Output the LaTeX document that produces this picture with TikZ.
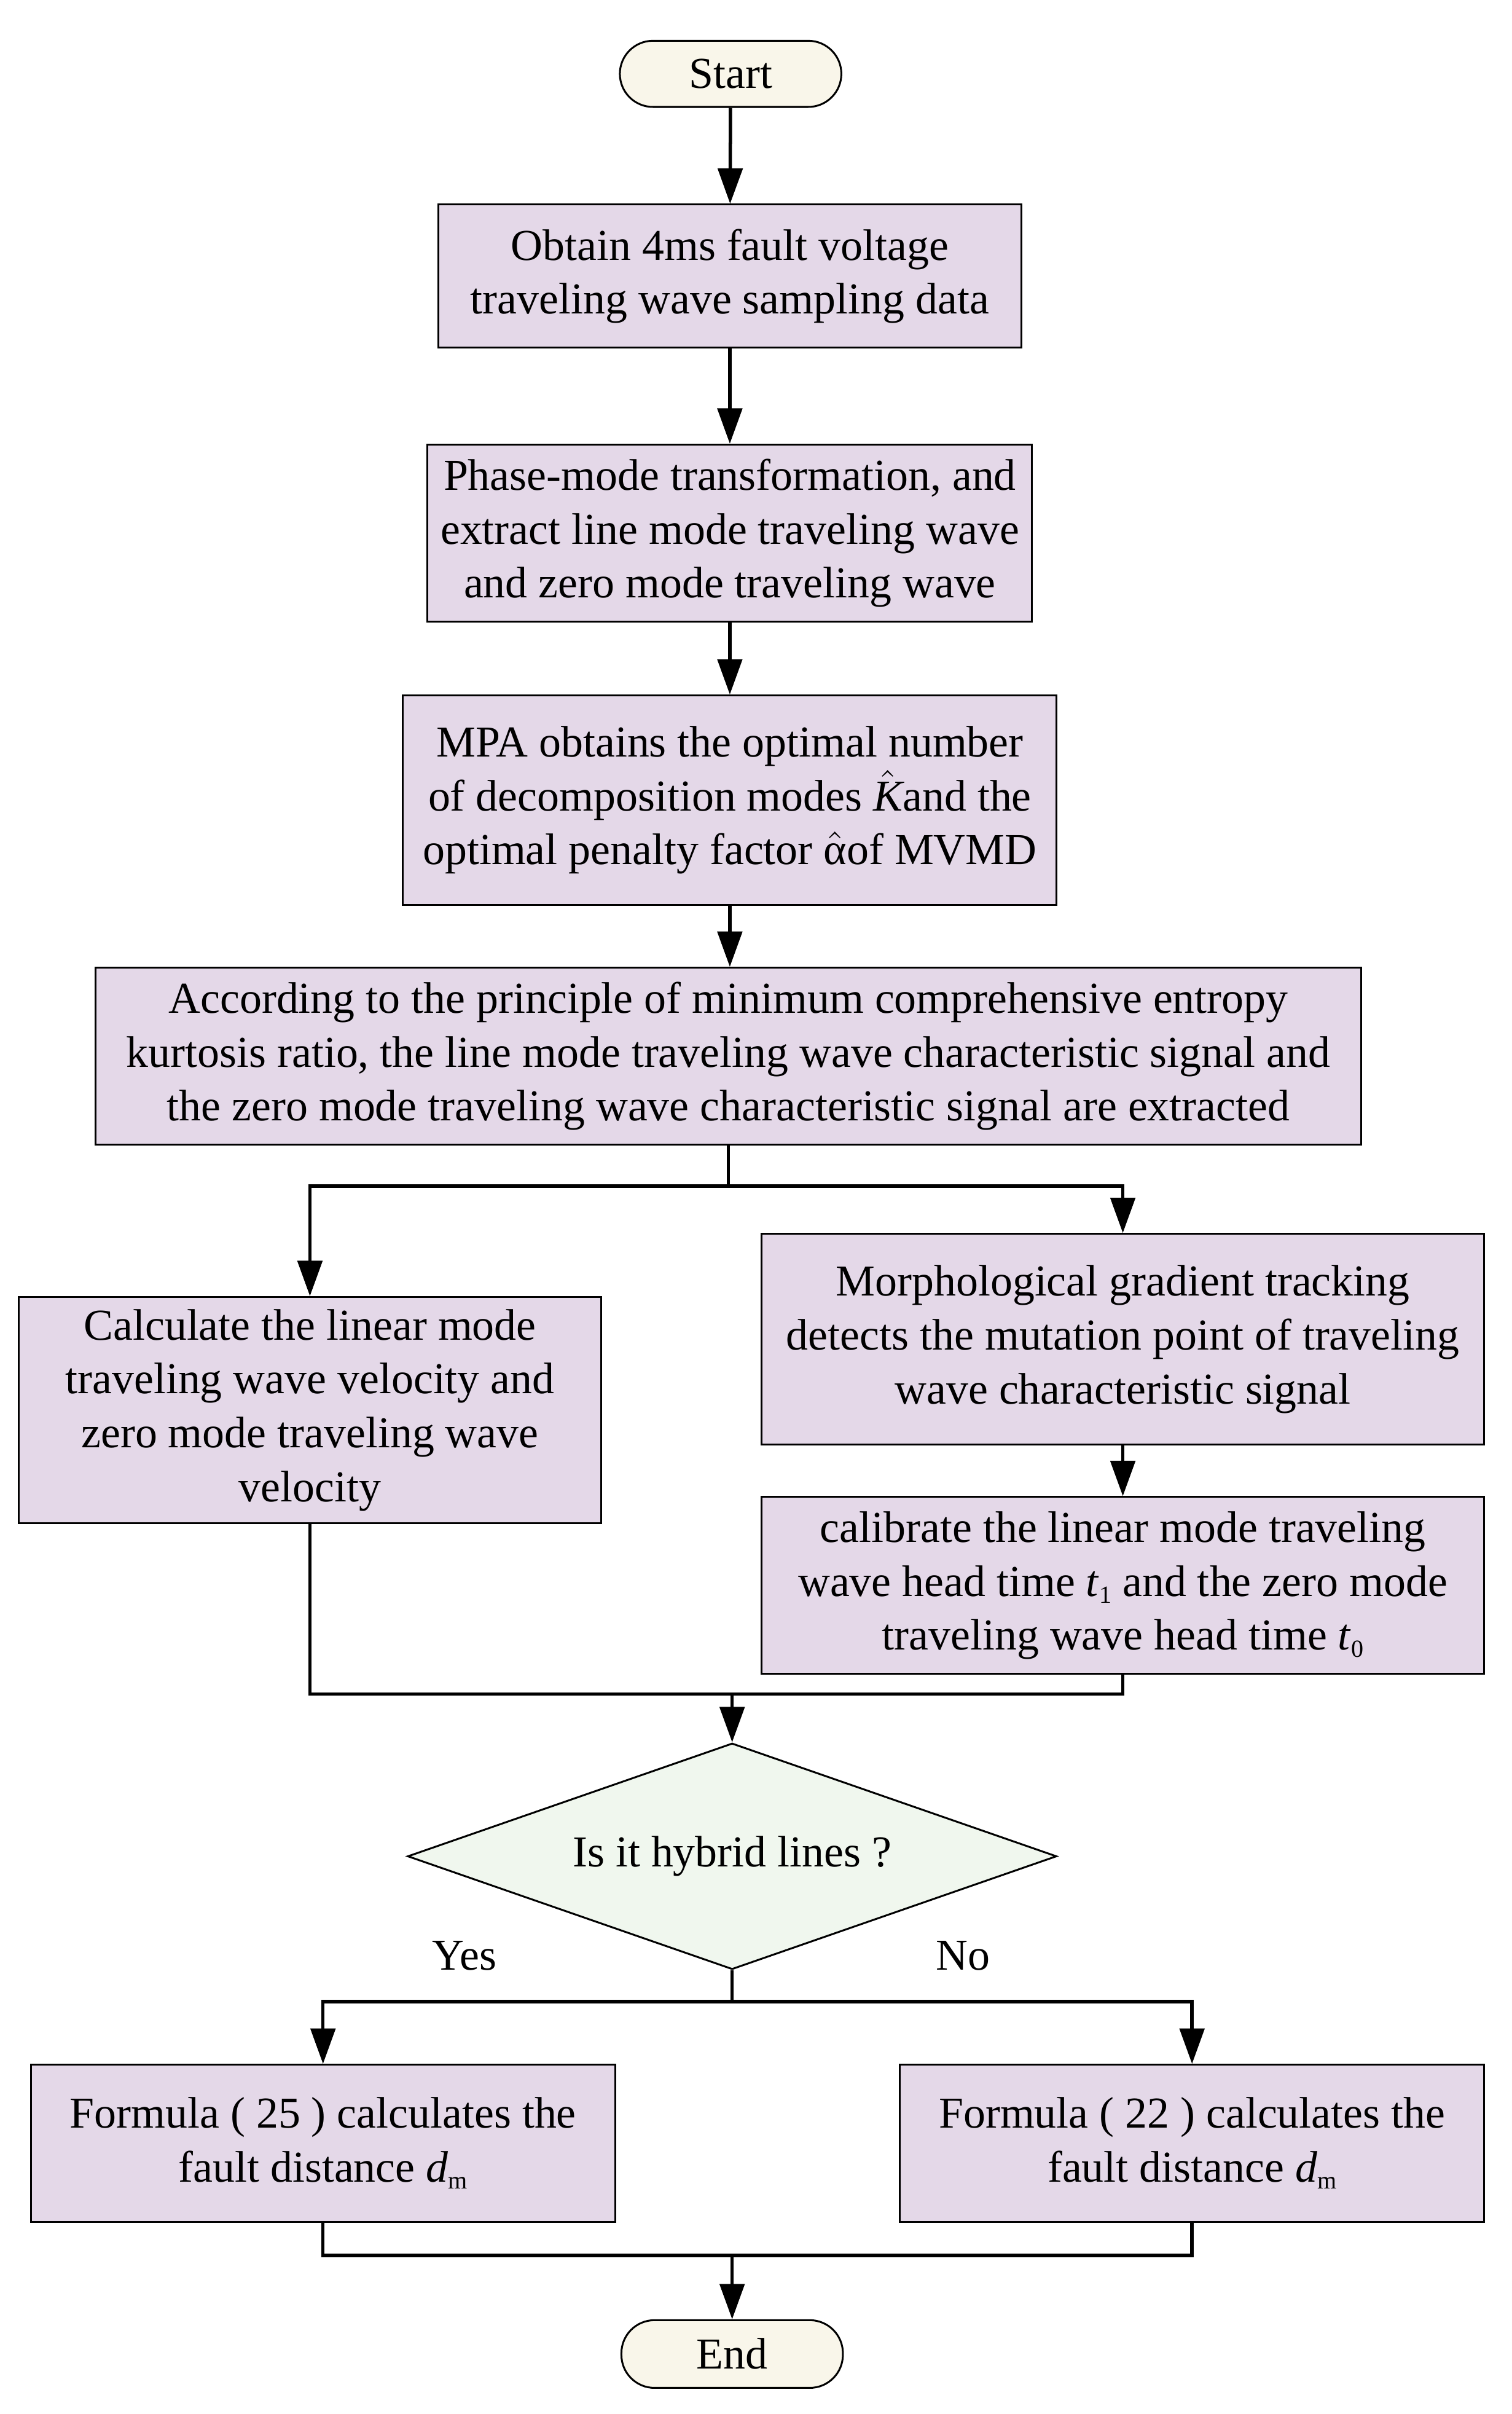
\documentclass[tikz,border=0pt]{standalone}
\usepackage{fontspec}
\setmainfont{Liberation Serif}
\usetikzlibrary{arrows.meta,shapes.geometric}
\definecolor{boxfill}{RGB}{228,216,232}
\definecolor{termfill}{RGB}{249,246,234}
\definecolor{decfill}{RGB}{240,247,238}
\tikzset{
  txt/.style={font=\fontsize{14.35}{17.5}\selectfont, align=center, inner sep=0pt},
  procbox/.style={txt, draw=black, line width=0.6pt, fill=boxfill, rectangle},
  termbox/.style={txt, draw=black, line width=0.6pt, fill=termfill, rectangle, rounded corners=10.75pt},
  decbox/.style={txt, draw=black, line width=0.6pt, fill=decfill, diamond, aspect=2.87},
  conn/.style={line width=1.1pt},
  arr/.style={conn, -{Triangle[width=8pt,length=11.5pt]}},
}
\newcommand{\subt}[1]{\raisebox{-0.35ex}{\footnotesize #1}}
\begin{document}
\begin{tikzpicture}[x=0.5pt,y=-0.5pt]
\useasboundingbox (0,0) rectangle (983,1569);
\fill[white] (0,0) rectangle (983,1569);

\node[termbox, minimum width=72pt, minimum height=21.5pt] (start) at (475,48) {Start};
\node[procbox, minimum width=189.5pt, minimum height=46.5pt] (b1) at (474.5,179.5)
  {Obtain 4ms fault voltage\\traveling wave sampling data};
\node[procbox, minimum width=196.5pt, minimum height=57.5pt] (b2) at (474.5,346.5)
  {Phase-mode transformation, and\\extract line mode traveling wave\\and zero mode traveling wave};
\node[procbox, minimum width=212.5pt, minimum height=68pt] (b3) at (474.5,520)
  {MPA obtains the optimal number\\of decomposition modes $\hat{\mbox{\itshape K}}$and the\\optimal penalty factor $\hat{\mbox{α}}$of MVMD};
\node[procbox, minimum width=411.5pt, minimum height=57.5pt] (b4) at (473.5,686.5)
  {According to the principle of minimum comprehensive entropy\\kurtosis ratio, the line mode traveling wave characteristic signal and\\the zero mode traveling wave characteristic signal are extracted};
\node[procbox, minimum width=189.5pt, minimum height=73.5pt] (L) at (201.5,916.5)
  {Calculate the linear mode\\traveling wave velocity and\\zero mode traveling wave\\velocity};
\node[procbox, minimum width=235pt, minimum height=68.5pt] (R1) at (730,870.5)
  {Morphological gradient tracking\\detects the mutation point of traveling\\wave characteristic signal};
\node[procbox, minimum width=235pt, minimum height=57.5pt] (R2) at (730,1030.5)
  {calibrate the linear mode traveling\\wave head time \textit{t}\subt{1} and the zero mode\\traveling wave head time \textit{t}\subt{0}};
\node[decbox, minimum width=211pt, minimum height=73.5pt] (D) at (476,1206.5) {Is it hybrid lines ?};
\node[txt] (yes) at (302,1271) {Yes};
\node[txt] (no) at (626,1271) {No};
\node[procbox, minimum width=190pt, minimum height=51pt] (F1) at (210,1393)
  {Formula ( 25 ) calculates the\\fault distance \textit{d}\subt{m}};
\node[procbox, minimum width=190pt, minimum height=51pt] (F2) at (775,1393)
  {Formula ( 22 ) calculates the\\fault distance \textit{d}\subt{m}};
\node[termbox, minimum width=72pt, minimum height=22pt] (end) at (476,1530) {End};

\coordinate (s1) at (473.5,771);
\coordinate (m1) at (476,1101);
\coordinate (s2) at (476,1301);
\coordinate (m2) at (476,1466);

\draw[arr] (start) -- (b1);
\draw[arr] (b1) -- (b2);
\draw[arr] (b2) -- (b3);
\draw[arr] (b3.south) -- (b4.north -| b3.south);
\draw[conn] (b4.south) -- (s1);
\draw[arr] (s1) -| (L.north);
\draw[arr] (s1) -| (R1.north);
\draw[arr] (R1) -- (R2);
\draw[conn] (L.south) |- (m1);
\draw[conn] (R2.south) |- (m1);
\draw[arr] (m1) -- (D.north);
\draw[conn] (D.south) -- (s2);
\draw[arr] (s2) -| (F1.north);
\draw[arr] (s2) -| (F2.north);
\draw[conn] (F1.south) |- (m2);
\draw[conn] (F2.south) |- (m2);
\draw[arr] (m2) -- (end.north);
\end{tikzpicture}
\end{document}
